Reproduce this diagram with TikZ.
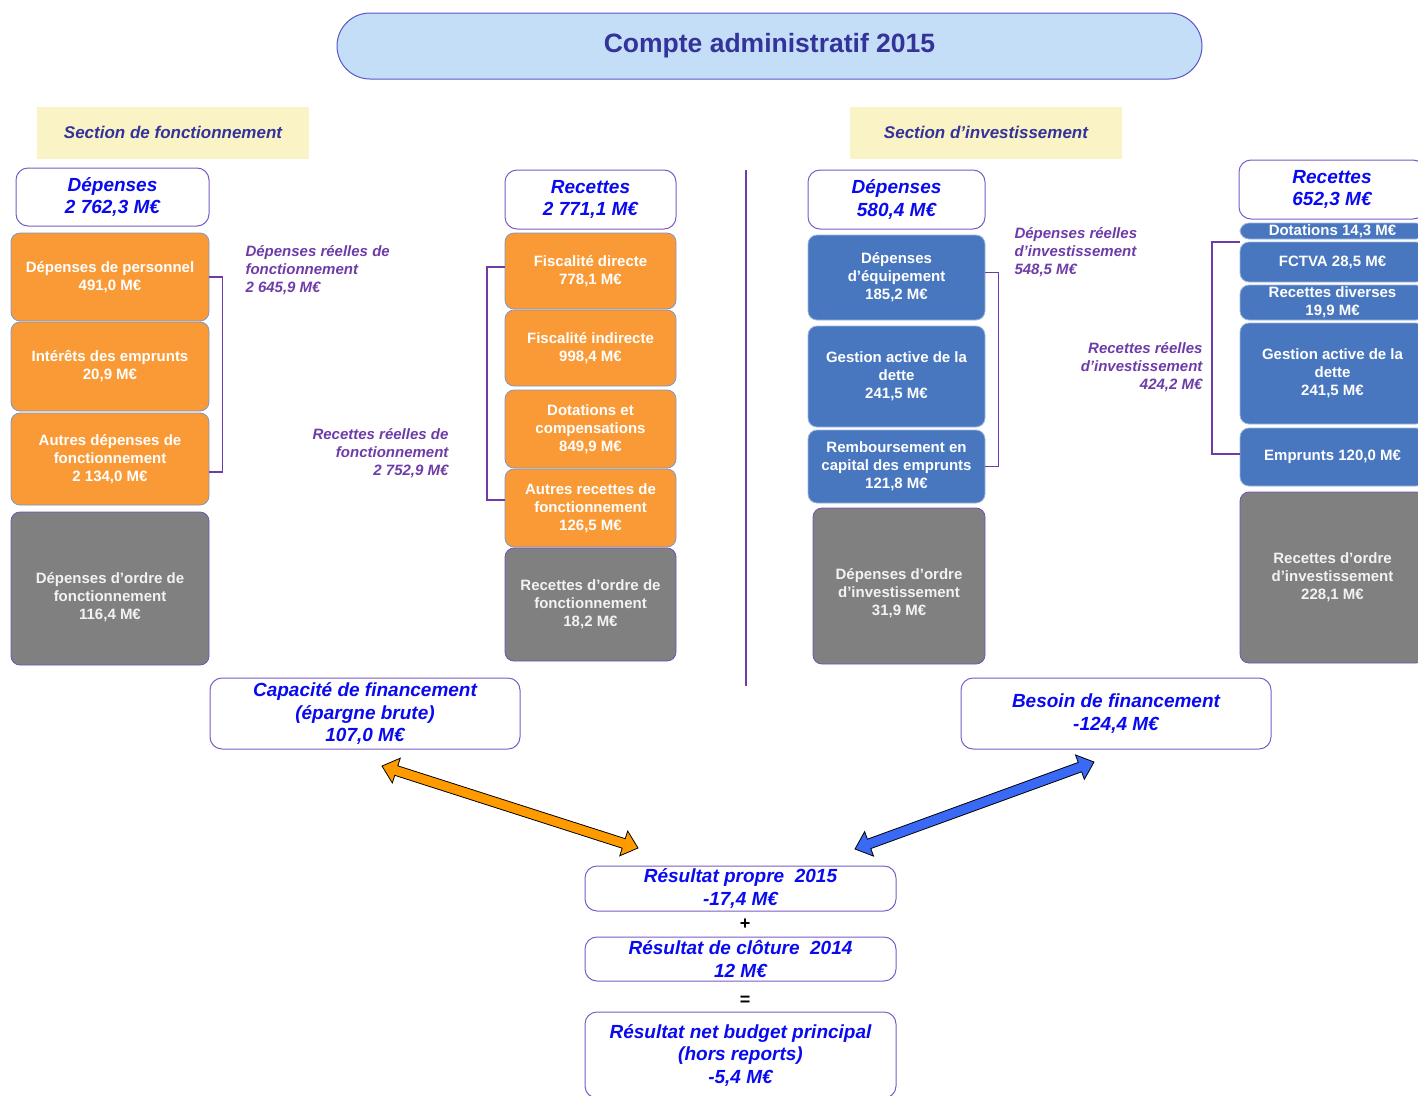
\documentclass[tikz,border=0pt]{standalone}
\usepackage{fontspec}
\setmainfont{Liberation Sans}
\usetikzlibrary{calc}

\definecolor{titlefill}{HTML}{C5DEF7}
\definecolor{titleedge}{HTML}{5B55C8}
\definecolor{navy}{HTML}{333399}
\definecolor{sectfill}{HTML}{FAF3C6}
\definecolor{headblue}{HTML}{0A0AF0}
\definecolor{headedge}{HTML}{7B5CC4}
\definecolor{boxorange}{HTML}{F99A36}
\definecolor{orangeedge}{HTML}{7D98C6}
\definecolor{boxblue}{HTML}{4877BF}
\definecolor{blueedge}{HTML}{9DB8E0}
\definecolor{boxgrey}{HTML}{808080}
\definecolor{greyedge}{HTML}{7050B8}
\definecolor{labelpurple}{HTML}{6E3CA8}
\definecolor{arroworange}{HTML}{FF9A00}
\definecolor{arrowblue}{HTML}{3A6AF5}

% block arrow with a head at both ends
\newcommand\fatarrow[3]{%
  \coordinate (fa-s) at ($(#2)!15pt!(#3)$);
  \coordinate (fa-e) at ($(#3)!15pt!(#2)$);
  \draw[fill=#1, line width=0.8pt, line join=miter]
    (#2) -- ($(fa-s)!13pt!90:(#3)$) -- ($(fa-s)!5pt!90:(#3)$)
    -- ($(fa-e)!5pt!-90:(#2)$) -- ($(fa-e)!13pt!-90:(#2)$) -- (#3)
    -- ($(fa-e)!13pt!90:(#2)$) -- ($(fa-e)!5pt!90:(#2)$)
    -- ($(fa-s)!5pt!-90:(#3)$) -- ($(fa-s)!13pt!-90:(#3)$) -- cycle;}

\tikzset{
  cell/.style={rectangle, rounded corners=9pt, align=center, text=white,
    font=\fontsize{15}{18}\selectfont\bfseries, inner sep=2pt},
  orangecell/.style={cell, fill=boxorange, draw=orangeedge, line width=0.8pt},
  bluecell/.style={cell, fill=boxblue, draw=blueedge, line width=0.8pt},
  greycell/.style={cell, fill=boxgrey, draw=greyedge, line width=0.8pt, text=white!95!black},
  headbox/.style={rectangle, rounded corners=12pt, draw=headedge, line width=1pt,
    fill=white, align=center, text=headblue, inner sep=1pt,
    font=\fontsize{19}{22.5}\selectfont\bfseries\itshape},
  tally/.style={text=labelpurple, font=\fontsize{15}{18}\selectfont\bfseries\itshape},
  sectbox/.style={rectangle, fill=sectfill, text=navy, minimum width=272, minimum height=52,
    font=\fontsize{17}{20}\selectfont\bfseries\itshape},
  tiebar/.style={draw=labelpurple, line width=1.8pt},
  sign/.style={font=\fontsize{18}{20}\selectfont\bfseries}
}

\begin{document}
\begin{tikzpicture}[x=1pt, y=-1pt]
\useasboundingbox (0,0) rectangle (1418,1095);

% title and sections
\node[rectangle, rounded corners=33pt, fill=titlefill, draw=titleedge, line width=1pt,
  minimum width=865, minimum height=66, text=navy,
  font=\fontsize{26.5}{30}\selectfont\bfseries] (title) at (769.5,46) {Compte administratif 2015};
\node[sectbox] (sectfon) at (173,132.5) {Section de fonctionnement};
\node[sectbox] (sectinv) at (986,132.5) {Section d’investissement};

\draw[draw=labelpurple, line width=1.8pt] (746,170) -- (746,686);

% fonctionnement - depenses
\node[headbox, minimum width=193, minimum height=58] (fdep) at (112.5,197) {Dépenses\\2 762,3 M€};
\node[orangecell, minimum width=198, minimum height=88] (fpers) at (110,277) {Dépenses de personnel\\491,0 M€};
\node[orangecell, minimum width=198, minimum height=89] (finter) at (110,366.5) {Intérêts des emprunts\\20,9 M€};
\node[orangecell, minimum width=198, minimum height=92] (fautdep) at (110,459) {Autres dépenses de\\fonctionnement\\2 134,0 M€};
\node[greycell, minimum width=198, minimum height=153] (fordep) at (110,588.5) {\mbox{}\\[10pt]Dépenses d’ordre de\\fonctionnement\\116,4 M€};

% fonctionnement - recettes
\node[headbox, minimum width=171, minimum height=59] (frec) at (590.5,199.5) {Recettes\\2 771,1 M€};
\node[orangecell, minimum width=171, minimum height=76] (ffisdir) at (590.5,271) {Fiscalité directe\\778,1 M€};
\node[orangecell, minimum width=171, minimum height=76] (ffisind) at (590.5,348) {Fiscalité indirecte\\998,4 M€};
\node[orangecell, minimum width=171, minimum height=78] (fdot) at (590.5,429) {Dotations et\\compensations\\849,9 M€};
\node[orangecell, minimum width=171, minimum height=78] (fautrec) at (590.5,508) {Autres recettes de\\fonctionnement\\126,5 M€};
\node[greycell, minimum width=171, minimum height=113] (forrec) at (590.5,604.5) {Recettes d’ordre de\\fonctionnement\\18,2 M€};

\node[tally, anchor=west, align=left] (ldrf) at (242,270) {Dépenses réelles de\\fonctionnement\\2 645,9 M€};
\node[tally, anchor=east, align=right] (lrrf) at (452,453) {Recettes réelles de\\fonctionnement\\2 752,9 M€};

\draw[tiebar] (fpers.east) -- ++(13,0) |- ([yshift=-13pt]fautdep.east);
\draw[tiebar] ([yshift=4pt]ffisdir.west) -- ++(-18,0) |- ([yshift=8pt]fautrec.west);

% investissement - depenses
\node[headbox, minimum width=177, minimum height=59] (idep) at (896.5,199.5) {Dépenses\\580,4 M€};
\node[bluecell, minimum width=177, minimum height=85] (iequip) at (896.5,277.5) {Dépenses\\d’équipement\\185,2 M€};
\node[bluecell, minimum width=177, minimum height=101] (igest) at (896.5,376.5) {Gestion active de la\\dette\\241,5 M€};
\node[bluecell, minimum width=177, minimum height=73] (iremb) at (896.5,466.5) {Remboursement en\\capital des emprunts\\121,8 M€};
\node[greycell, minimum width=172, minimum height=156] (iordep) at (899,586) {\mbox{}\\[8pt]Dépenses d’ordre\\d’investissement\\31,9 M€};

% investissement - recettes
\node[headbox, minimum width=186, minimum height=59] (irec) at (1332,189.5) {Recettes\\652,3 M€};
\node[bluecell, minimum width=185, minimum height=16, inner ysep=0pt] (idota) at (1332.5,231) {Dotations 14,3 M€};
\node[bluecell, minimum width=185, minimum height=40] (ifctva) at (1332.5,262) {FCTVA 28,5 M€};
\node[bluecell, minimum width=185, minimum height=35, inner ysep=0pt] (idiv) at (1332.5,302.5) {Recettes diverses\\19,9 M€};
\node[bluecell, minimum width=185, minimum height=101] (igestr) at (1332.5,373.5) {Gestion active de la\\dette\\241,5 M€};
\node[bluecell, minimum width=185, minimum height=58] (iemp) at (1332.5,457) {Emprunts 120,0 M€};
\node[greycell, minimum width=185, minimum height=171] (iorrec) at (1332.5,577.5) {Recettes d’ordre\\d’investissement\\228,1 M€};

\node[tally, anchor=west, align=left] (ldri) at (1011,252) {Dépenses réelles\\d’investissement\\548,5 M€};
\node[tally, anchor=east, align=right] (lrri) at (1206,367) {Recettes réelles\\d’investissement\\424,2 M€};

\draw[tiebar] ([yshift=5pt]iequip.east) -- ++(13,0) |- (iremb.east);
\draw[tiebar] (ifctva.north west) -- ++(-28,0) |- ([yshift=3pt]iemp.west);

% financement and result
\node[headbox, minimum width=310, minimum height=71] (capa) at (365,713.5) {Capacité de financement\\(épargne brute)\\107,0 M€};
\node[headbox, minimum width=310, minimum height=71] (besoin) at (1116,713.5) {Besoin de financement\\-124,4 M€};
\node[headbox, minimum width=311, minimum height=45] (rprop) at (740.5,888.5) {Résultat propre\ \ 2015\\-17,4 M€};
\node[sign] (plus) at (745,924) {+};
\node[headbox, minimum width=311, minimum height=44] (rclot) at (740.5,959) {Résultat de clôture\ \ 2014\\12 M€};
\node[sign] (egal) at (745,1001) {=};
\node[headbox, minimum width=311, minimum height=86] (rnet) at (740.5,1055) {Résultat net budget principal\\(hors reports)\\-5,4 M€};

\coordinate (oa1) at (382,766);
\coordinate (oa2) at (638,848);
\coordinate (ba1) at (855,849);
\coordinate (ba2) at (1094,762);
\fatarrow{arroworange}{oa1}{oa2}
\fatarrow{arrowblue}{ba1}{ba2}
\end{tikzpicture}
\end{document}
